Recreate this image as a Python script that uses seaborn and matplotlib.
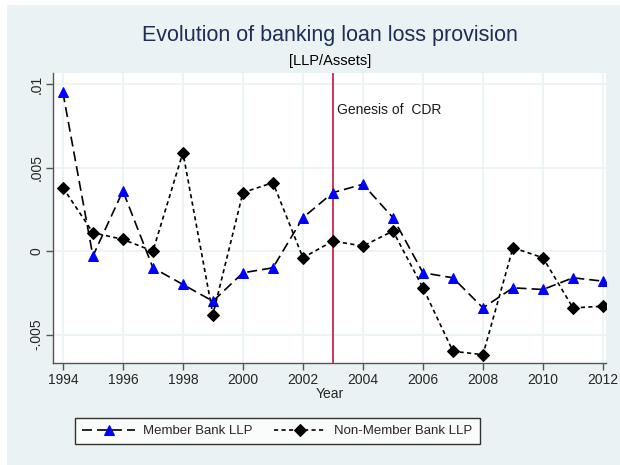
import matplotlib
matplotlib.use("Agg")
import matplotlib.pyplot as plt
import seaborn as sns
import pandas as pd
from matplotlib.patches import Rectangle

years = list(range(1994, 2013))
member_llp = [0.0095, -0.0003, 0.0036, -0.0010, -0.0020, -0.0030, -0.0013, -0.0010, 0.0020,
              0.0035, 0.0040, 0.0020, -0.0013, -0.0016, -0.0034, -0.0022, -0.0023, -0.0016, -0.0018]
nonmember_llp = [0.0038, 0.0011, 0.0007, 0.0000, 0.0059, -0.0038, 0.0035, 0.0041, -0.0004,
                 0.0006, 0.0003, 0.0012, -0.0022, -0.0060, -0.0062, 0.0002, -0.0004, -0.0034, -0.0033]
xticks = list(range(1994, 2013, 2))
yticks = [-0.005, 0, 0.005, 0.01]
ytick_labels = ["-.005", "0", ".005", ".01"]
event_year = 2003
event_label = "Genesis of  CDR"

sns.set_theme(style="white")
plt.rcParams['font.family'] = ['Liberation Sans', 'DejaVu Sans']

bg = "#EAF2F3"
fig = plt.figure(figsize=(6.2, 4.65), dpi=100)
fig.patch.set_facecolor("white")
fig.patches.append(Rectangle((7/620, 0), 1, 1 - 5/465, transform=fig.transFigure,
                             facecolor=bg, edgecolor="none", zorder=-10))
ax = fig.add_axes([53/620, 1 - 363/465, (606-53)/620, (363-73)/465])
ax.set_facecolor("white")

df = pd.DataFrame({"Year": years, "Member": member_llp, "NonMember": nonmember_llp})

sns.lineplot(data=df, x="Year", y="Member", ax=ax, color="black", lw=1.2,
             linestyle=(0, (6, 3)), marker="^", markersize=7.5,
             markerfacecolor="blue", markeredgecolor="blue", label="Member Bank LLP", zorder=3)
sns.lineplot(data=df, x="Year", y="NonMember", ax=ax, color="black", lw=1.2,
             linestyle=(0, (2.5, 2)), marker="D", markersize=6.5,
             markerfacecolor="black", markeredgecolor="black", label="Non-Member Bank LLP", zorder=3)

ax.axvline(event_year, color="#C0183A", lw=1.2, zorder=2)
ax.text(event_year + 0.12, 0.00845, event_label, fontsize=10, color="#1a1a1a", va="center", ha="left")

ax.set_xlim(1993.67, 2012.1)
ax.set_ylim(-0.0067, 0.01066)
ax.set_xticks(xticks)
ax.set_xticklabels([str(x) for x in xticks], fontsize=10)
ax.set_yticks(yticks)
ax.set_yticklabels(ytick_labels, fontsize=10, rotation=90, va="center")
ax.grid(True, color=bg, lw=1.2)
ax.set_axisbelow(True)
for s in ["top", "right"]:
    ax.spines[s].set_visible(False)
for s in ["left", "bottom"]:
    ax.spines[s].set_color("#555555")
    ax.spines[s].set_linewidth(1)
ax.tick_params(axis="both", which="both", direction="out", length=5, width=1, color="#555555",
               bottom=True, left=True, pad=2)
ax.set_xlabel("Year", fontsize=10, labelpad=0)
ax.set_ylabel("")

fig.text(330/620, 1 - 35/465, "Evolution of banking loan loss provision", fontsize=15.5,
         color="#1E2D53", ha="center", va="center")
fig.text(330/620, 1 - 61/465, "[LLP/Assets]", fontsize=10.5, color="black", ha="center", va="center")

leg = ax.legend(loc="center", bbox_to_anchor=(277.5/620, 1 - 431/465), bbox_transform=fig.transFigure,
                ncol=2, frameon=True, fancybox=False, fontsize=9.5, handlelength=4.0,
                columnspacing=1.6, borderpad=0.55, handletextpad=0.6)
leg.get_frame().set_edgecolor("black")
leg.get_frame().set_linewidth(1)
leg.get_frame().set_facecolor("white")

fig.savefig("out.png", dpi=100, facecolor=fig.get_facecolor())
